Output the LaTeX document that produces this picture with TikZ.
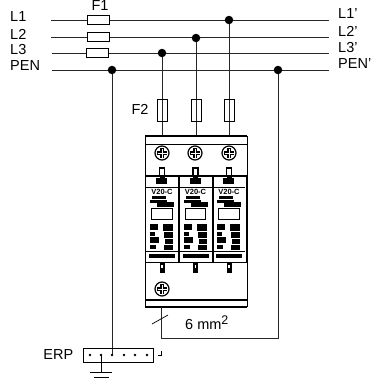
\documentclass[tikz,border=0pt]{standalone}
\usepackage{fontspec}
\usepackage{tikz}
\usetikzlibrary{calc}
\setmainfont{Liberation Sans}
\tikzset{
    wire/.style={line width=0.9pt,black!85},
    dot/.style={circle,fill=black,inner sep=0pt,minimum size=8.5pt},
    tiny dot/.style={circle,fill=black,inner sep=0pt,minimum size=2.8pt},
    fuse/.style={draw,fill=white,line width=0.8pt,inner sep=0pt},
    lbl/.style={inner sep=0pt,font=\fontsize{14.5}{14.5}\selectfont},
    blob/.style={fill=black,draw=none}
}
\newcommand{\screw}[1]{%
    \draw[line width=1.2pt] (#1) circle (7);
    \draw[line width=3.4pt] ($(#1)+(-5,0)$) -- ($(#1)+(5,0)$);
    \draw[line width=3.4pt] ($(#1)+(0,-5)$) -- ($(#1)+(0,5)$);
    \draw[line width=1pt,white] ($(#1)+(-4.5,0)$) -- ($(#1)+(4.5,0)$);
    \draw[line width=1pt,white] ($(#1)+(0,-4.5)$) -- ($(#1)+(0,4.5)$);
}
\begin{document}
\begin{tikzpicture}[x=1pt,y=-1pt]
    \useasboundingbox (0,0) rectangle (379,383);
    % Lines
    \foreach \name/\y/\xs/\txt/\tyy in {a/20/51/L1/17,b/37/51/L2/34,c/53/52/L3/50,d/70/52/PEN/66} {
        \node[lbl,anchor=west] (\name in) at (10,\tyy) {\txt};
        \coordinate (\name w) at (\xs,\y);
        \coordinate (\name e) at (329,\y);
        \draw[wire] (\name w) -- (\name e);
    }
    \node[lbl,anchor=west] (a out) at (338,14) {L1'};
    \node[lbl,anchor=west] (b out) at (338,31) {L2'};
    \node[lbl,anchor=west] (c out) at (338,48) {L3'};
    \node[lbl,anchor=west] (d out) at (338,64) {PEN'};
    % Fuses F1
    \node[lbl] (f1) at (100,5.4) {F1};
    \node[fuse,minimum width=22pt,minimum height=9pt] (fa) at (98,20) {};
    \node[fuse,minimum width=22pt,minimum height=9pt] (fb) at (98,37) {};
    \node[fuse,minimum width=22pt,minimum height=9pt] (fc) at (97,53) {};
    % Junctions
    \node[dot] (ja) at (229,20) {};
    \node[dot] (jb) at (196,38) {};
    \node[dot] (jc) at (162,53) {};
    \node[dot] (jd) at (112,70) {};
    \node[dot] (je) at (278,70) {};
    % Fuses F2
    \node[lbl] (f2) at (140,109) {F2};
    \foreach \name/\x in {c/162,b/196,a/229} {
        \coordinate (top \name) at (\x,136);
        \draw[wire] (j\name) -- (top \name);
        \node[fuse,minimum width=10pt,minimum height=22pt,fill=none] (fuse \name) at (\x,110) {};
    }
    % Device
    \draw[line width=1.8pt] (145,136) -- (247,136);
    \draw[line width=0.9pt] (145,144) -- (247,144);
    \draw[line width=0.9pt] (145,136) -- (145,307);
    \draw[line width=0.9pt] (247,136) -- (247,176);
    \draw[line width=0.9pt] (247,262) -- (247,307);
    \draw[line width=0.9pt] (145,262) -- (247,262);
    \draw[line width=1.8pt] (145,176) -- (247,176);
    \draw[line width=1.8pt] (145,300) -- (247,300);
    \draw[line width=1.8pt] (145,307) -- (247,307);
    \draw[line width=1.8pt] (179,176) -- (179,262);
    \draw[line width=1.8pt] (213,176) -- (213,262);
    \draw[line width=1.8pt] (247,176) -- (247,262);
    \screw{162,153}
    \screw{195,153}
    \screw{229,153}
    \screw{162,289}
    % Modules
    \foreach \x in {162,195.5,229} {
        \begin{scope}[shift={(\x,0)}]
            \draw[line width=1.4pt] (-2.5,176) -- (-2.5,168) -- (2.5,168) -- (2.5,176);
            \fill[blob] (-6,178) rectangle (5,184);
            \fill[blob] (-2.5,176) rectangle (2.5,178);
            \draw[line width=0.8pt] (-17,187) -- (16,187);
            \node[inner sep=0pt,font=\fontsize{7.5}{7.5}\selectfont\bfseries] at (0,192) {V20-C};
            \fill[blob] (-10,196) rectangle (4,198.5);
            \fill[blob] (-12,199.5) rectangle (5,202.5);
            \fill[blob] (-5,201.5) rectangle (12,206.5);
            \draw[line width=0.8pt] (-10.5,208) rectangle (10,219.5);
            \fill[blob] (-12,223.5) rectangle (-4,230);
            \fill[blob] (1,223.5) rectangle (11,231);
            \fill[blob] (-12,232) rectangle (-7,235.5);
            \fill[blob] (2,232) rectangle (11,238);
            \fill[blob] (-12,236.5) rectangle (-3,243);
            \fill[blob] (3,239) rectangle (11,244);
            \fill[blob] (-12,245) rectangle (-6,248.5);
            \fill[blob] (2,245) rectangle (11,249.5);
            \draw[line width=0.8pt] (-17,251.5) -- (16,251.5);
            \fill[blob] (-13,254) rectangle (13,257.5);
            \fill[blob] (-2.5,263) rectangle (2.5,273);
            \fill[white] (-0.7,265) rectangle (0.7,267.5);
        \end{scope}
    }
    % PEN and earth
    \coordinate (pen down) at (112,355);
    \draw[wire] (jd) -- (pen down);
    \coordinate (dev out) at (161,307);
    \coordinate (bond) at (161,338);
    \coordinate (bond e) at (278,338);
    \draw[wire] (dev out) -- (bond) -- (bond e) -- (je);
    \coordinate (slash a) at (152,324);
    \coordinate (slash b) at (168,315);
    \draw[line width=0.7pt] (slash a) -- (slash b);
    \node[lbl,anchor=west] (size) at (185,323) {6 mm\raisebox{5pt}{\fontsize{12.5}{12.5}\selectfont 2}};
    % ERP
    \node[lbl,anchor=east] (erp) at (73.5,355) {ERP};
    \node[draw,line width=0.9pt,minimum width=69.5pt,minimum height=14pt,inner sep=0pt] (bar) at (118.25,355) {};
    \foreach \x in {90,101,112,124,135,147} {
        \node[tiny dot] at (\x,355) {};
    }
    \coordinate (gnd top) at (101,355);
    \coordinate (gnd bot) at (101,372);
    \draw[line width=0.8pt] (gnd top) -- (gnd bot);
    \draw[line width=0.8pt] (90,372) -- (112,372);
    \draw[line width=0.8pt] (94,377) -- (109,377);
    \draw[line width=0.6pt] (158,355) -- (161,355) -- (161,351);
\end{tikzpicture}
\end{document}
